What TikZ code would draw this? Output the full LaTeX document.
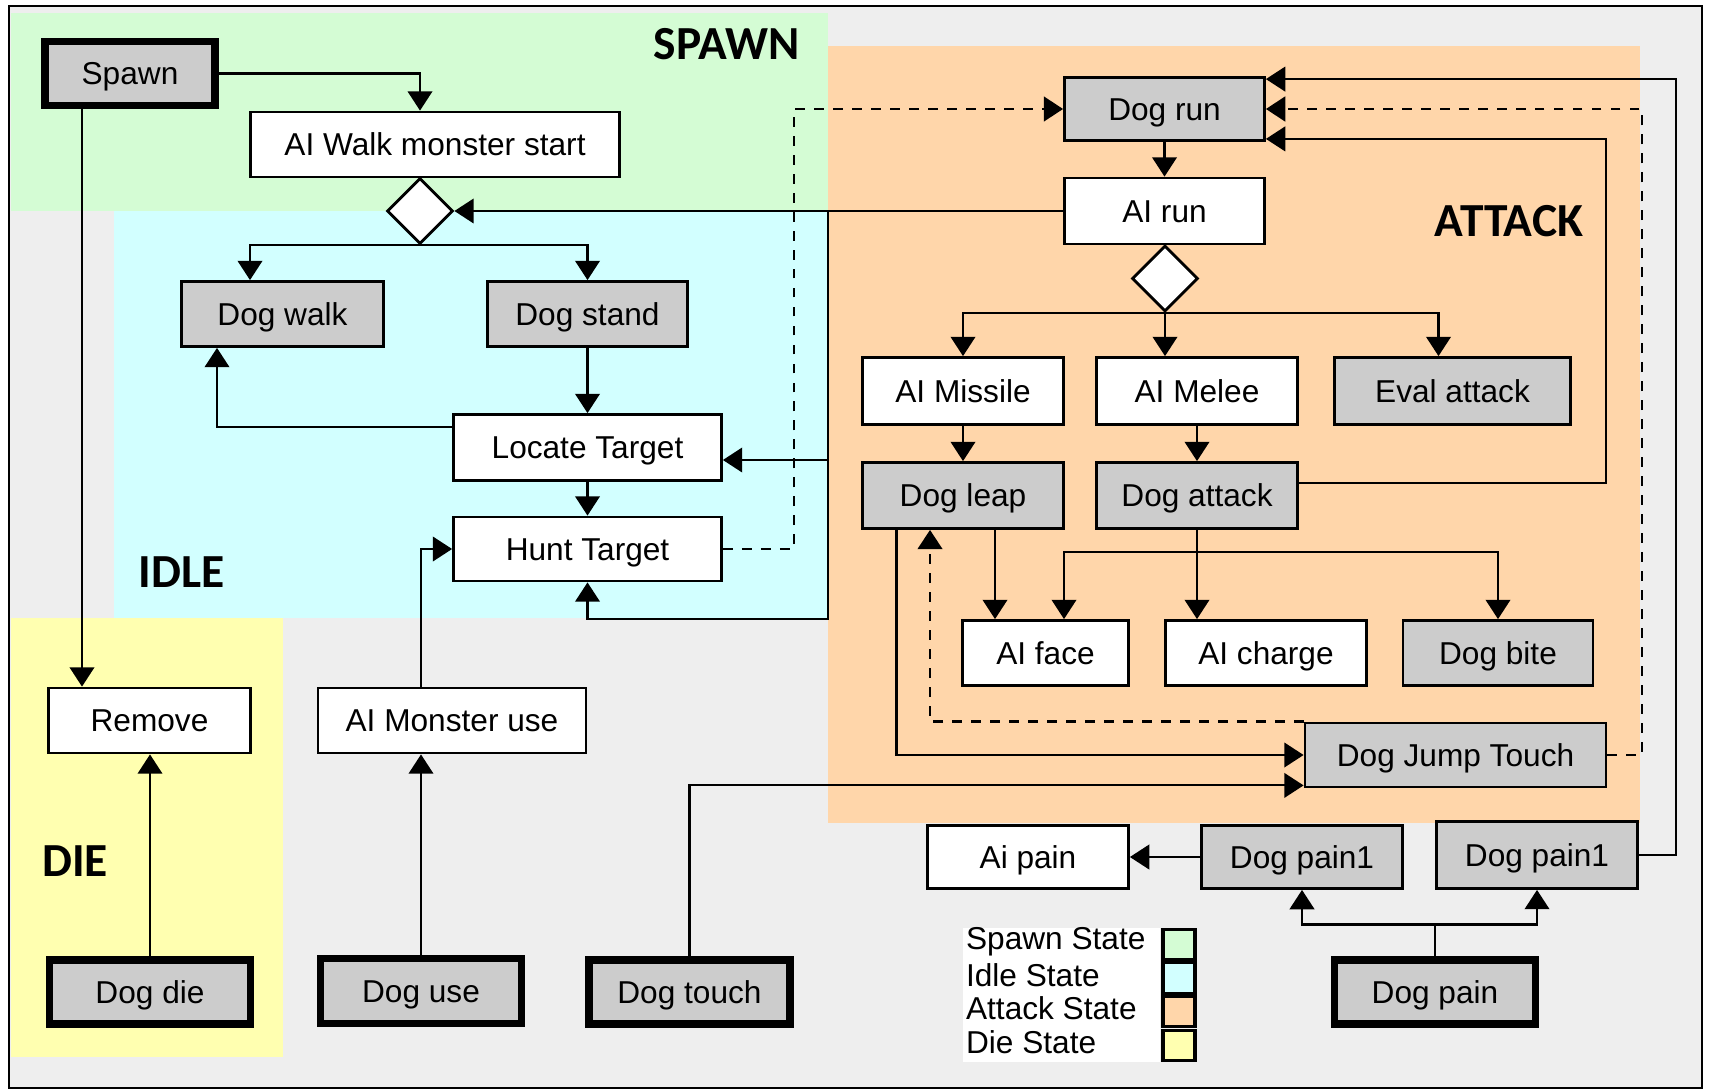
\documentclass[tikz,border=0pt]{standalone}
\usepackage{fontspec}
\setmainfont{Liberation Sans}
\newfontfamily\zonefont{Carlito}
\usepackage{xcolor}
\usepackage{tikz}
\usetikzlibrary{positioning, arrows.meta, shapes.geometric}

\definecolor{panel}{RGB}{238,238,238}
\definecolor{boxgray}{RGB}{204,204,204}
\definecolor{spawnbg}{RGB}{212,252,212}
\definecolor{idlebg}{RGB}{210,255,255}
\definecolor{atkbg}{RGB}{255,214,170}
\definecolor{diebg}{RGB}{255,255,176}

\begin{document}
\begin{tikzpicture}[
  font=\fontsize{9}{11}\selectfont,
  line width=0.6pt,
  act/.style={draw, line width=0.8pt, fill=white, inner sep=0pt,
              text height=6.5pt, text depth=0pt,
              minimum height=0.65cm, align=center},
  state/.style={act, fill=boxgray},
  event/.style={draw, line width=2pt, fill=boxgray, inner sep=0pt,
                text height=6.5pt, text depth=0pt,
                minimum height=0.64cm, minimum width=2.01cm},
  choice/.style={draw, diamond, line width=0.8pt, fill=white, inner sep=0pt,
                 minimum width=0.66cm, minimum height=0.66cm},
  zone/.style={font=\zonefont\bfseries\fontsize{13.5}{15}\selectfont},
  swatch/.style={draw, line width=0.9pt, inner sep=0pt,
                 minimum width=0.32cm, minimum height=0.305cm},
  arr/.style={-{Triangle[length=5.5pt,width=7pt]}},
  darr/.style={arr, line width=0.8pt, dash pattern=on 2.8pt off 2.6pt}
]
\useasboundingbox (0,0) rectangle (17.09,-10.91);
% panel and state zones
\draw[fill=panel] (0.09,-0.06) rectangle (17.02,-10.88);
\fill[spawnbg] (0.11,-0.13) rectangle (8.28,-2.11);
\fill[idlebg] (1.14,-2.11) rectangle (8.28,-6.18);
\fill[atkbg] (8.28,-0.46) rectangle (16.40,-8.23);
\fill[diebg] (0.11,-6.18) rectangle (2.83,-10.57);
\node[zone, anchor=east] (lspawn) at (8.12,-0.44) {SPAWN};
\node[zone] (lidle) at (1.815,-5.72) {IDLE};
\node[zone] (lattack) at (15.09,-2.21) {ATTACK};
\node[zone] (ldie) at (0.75,-8.61) {DIE};
% spawn
\node[event, minimum width=1.70cm] (spawn) at (1.30,-0.735) {Spawn};
\node[act, minimum width=3.69cm] (walk) at (4.35,-1.445) {AI Walk monster start};
\node[choice] (dia1) at (4.20,-2.11) {};
% idle
\node[state, minimum width=2.02cm] (dogwalk) at (2.825,-3.14) {Dog walk};
\node[state, minimum width=2.00cm] (dogstand) at (5.875,-3.14) {Dog stand};
\node[act, minimum width=2.68cm, minimum height=0.66cm] (locate) at (5.875,-4.475) {Locate Target};
\node[act, minimum width=2.68cm, minimum height=0.64cm] (hunt) at (5.875,-5.49) {Hunt Target};
% die and use
\node[act, minimum width=2.02cm] (remove) at (1.495,-7.205) {Remove};
\node[act, minimum width=2.68cm] (monuse) at (4.52,-7.205) {AI Monster use};
\node[event] (dogdie) at (1.50,-9.92) {Dog die};
\node[event, minimum height=0.65cm] (doguse) at (4.21,-9.91) {Dog use};
\node[event] (dogtouch) at (6.895,-9.92) {Dog touch};
\node[event] (dogpain) at (14.35,-9.92) {Dog pain};
% attack
\node[state, minimum width=2.00cm, minimum height=0.63cm] (dogrun) at (11.645,-1.09) {Dog run};
\node[act, minimum width=2.00cm, minimum height=0.66cm] (airun) at (11.645,-2.11) {AI run};
\node[choice] (dia2) at (11.65,-2.785) {};
\node[act, minimum width=2.01cm, minimum height=0.67cm] (aimissile) at (9.63,-3.91) {AI Missile};
\node[act, minimum width=2.01cm, minimum height=0.67cm] (aimelee) at (11.97,-3.91) {AI Melee};
\node[state, minimum width=2.36cm, minimum height=0.67cm] (evalatk) at (14.525,-3.91) {Eval attack};
\node[state, minimum width=2.01cm, minimum height=0.66cm] (dogleap) at (9.63,-4.955) {Dog leap};
\node[state, minimum width=2.01cm, minimum height=0.66cm] (dogattack) at (11.97,-4.955) {Dog attack};
\node[act, minimum width=1.66cm] (aiface) at (10.455,-6.53) {AI face};
\node[act, minimum width=2.01cm] (aicharge) at (12.66,-6.53) {AI charge};
\node[state, minimum width=1.90cm] (dogbite) at (14.98,-6.53) {Dog bite};
\node[state, minimum width=3.01cm, minimum height=0.64cm] (djt) at (14.555,-7.55) {Dog Jump Touch};
% pain
\node[act, minimum width=2.01cm, minimum height=0.63cm] (aipain) at (10.28,-8.57) {Ai pain};
\node[state, minimum width=2.01cm, minimum height=0.63cm] (pain1a) at (13.02,-8.57) {Dog pain1};
\node[state, minimum width=2.01cm, minimum height=0.67cm] (pain1b) at (15.37,-8.55) {Dog pain1};
% legend
\fill[white] (9.63,-9.28) rectangle (11.60,-10.62);
\node[anchor=west, inner sep=0pt] (tspawn) at (9.65,-9.42) {Spawn State};
\node[anchor=west, inner sep=0pt] (tidle) at (9.65,-9.75) {Idle State};
\node[anchor=west, inner sep=0pt] (tattack) at (9.65,-10.08) {Attack State};
\node[anchor=west, inner sep=0pt] (tdie) at (9.65,-10.42) {Die State};
\node[swatch, fill=spawnbg] (sspawn) at (11.79,-9.445) {};
\node[swatch, fill=idlebg] (sidle) at (11.79,-9.78) {};
\node[swatch, fill=atkbg] (sattack) at (11.79,-10.115) {};
\node[swatch, fill=diebg] (sdie) at (11.79,-10.455) {};
% spawn links
\draw[arr] (spawn.east) -| (dia1 |- walk.north);
\draw[arr] ([xshift=-0.48cm]spawn.south) -- ([xshift=-0.48cm]spawn.south |- remove.north);
% idle links
\coordinate (j1) at (8.28,-2.11);
\coordinate (j2) at (8.28,-6.19);
\draw[arr] (airun.west) -- (dia1.east);
\draw[arr] (j1) |- ([yshift=-0.125cm]locate.east);
\draw[arr] (j1) -- (j2) -| (hunt.south);
\draw[arr] (dia1.south) -| ([xshift=-0.325cm]dogwalk.north);
\draw[arr] (dia1.south) -| (dogstand.north);
\draw[arr] (dogstand) -- (locate);
\draw[arr] ([yshift=0.205cm]locate.west) -| ([xshift=-0.655cm]dogwalk.south);
\draw[arr] (locate) -- (hunt);
\coordinate (dx1) at (7.94,0);
\draw[darr] (hunt.east) -- (hunt.east -| dx1) |- (dogrun.west);
\draw[arr] ([xshift=-0.31cm]monuse.north) |- (hunt.west);
\draw[arr] (doguse.north) -- (doguse.north |- monuse.south);
\draw[arr] (dogdie.north) -- (dogdie.north |- remove.south);
% attack links
\draw[arr] (dogrun) -- (airun);
\draw[arr] (dia2.south) -| (aimissile.north);
\draw[arr] (dia2.south) -- (dia2.south |- aimelee.north);
\draw[arr] (dia2.south) -| ([xshift=-0.14cm]evalatk.north);
\draw[arr] (aimissile) -- (dogleap);
\draw[arr] (aimelee.south) -- (aimelee.south |- dogattack.north);
\draw (dogattack.south) -- ++(0,-0.22) coordinate (j3);
\draw[arr] (j3) -| ([xshift=0.185cm]aiface.north);
\draw[arr] (j3) -- (j3 |- aicharge.north);
\draw[arr] (j3) -| (dogbite.north);
\draw[arr] ([xshift=0.32cm]dogleap.south) -- ([xshift=0.32cm]dogleap.south |- aiface.north);
\draw[arr] ([xshift=-0.665cm]dogleap.south) |- (djt.west);
\draw[darr] (djt.north west) -| ([xshift=-0.33cm]dogleap.south);
\coordinate (dx2) at (16.42,0);
\draw[darr] (djt.east) -- (djt.east -| dx2) |- (dogrun.east);
\coordinate (dx3) at (16.06,0);
\draw[arr] ([yshift=0.125cm]dogattack.east) -- ([yshift=0.125cm]dogattack.east -| dx3)
  |- ([yshift=0.03cm]dogrun.south east);
\coordinate (dx4) at (16.76,0);
\draw[arr] (pain1b.east) -- (pain1b.east -| dx4) |- ([yshift=-0.03cm]dogrun.north east);
\draw[arr] (dogtouch.north) |- ([yshift=0.03cm]djt.south west);
% pain links
\draw[arr] (pain1a.west) -- (aipain.east);
\draw (dogpain.north) -- ++(0,0.32) coordinate (j4);
\draw[arr] (j4) -| (pain1a.south);
\draw[arr] (j4) -| (pain1b.south);
\end{tikzpicture}
\end{document}
